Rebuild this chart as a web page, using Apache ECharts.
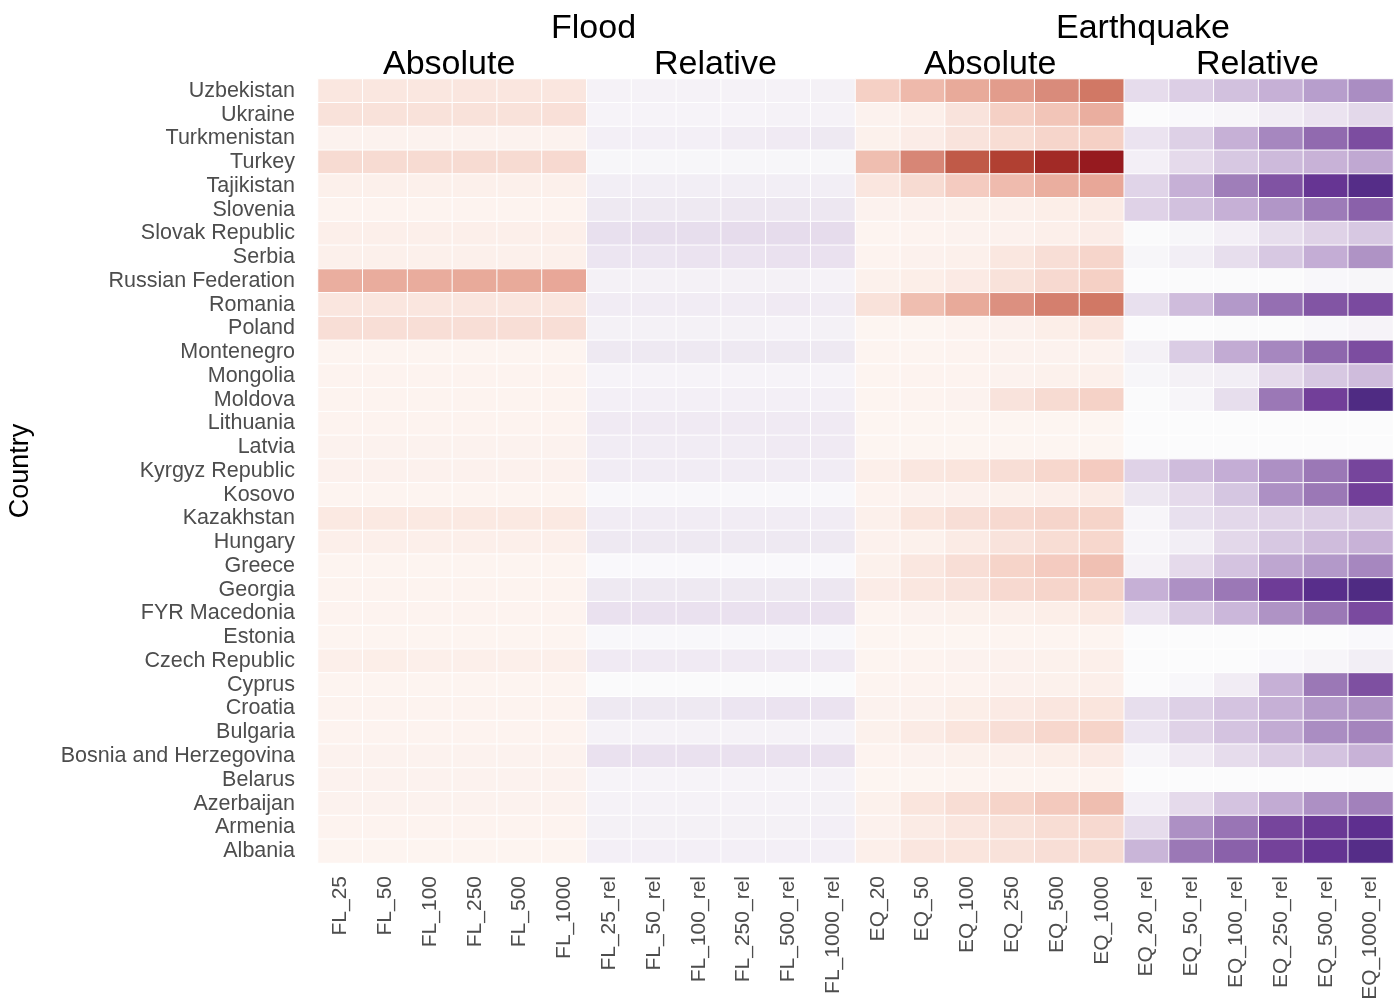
<!DOCTYPE html>
<html>
<head>
<meta charset="utf-8">
<script src="https://cdn.jsdelivr.net/npm/echarts@6/dist/echarts.min.js"></script>
<style>
html,body{margin:0;padding:0;background:#fff;}
#chart{width:1399px;height:998px;}
</style>
</head>
<body>
<div id="chart"></div>
<script>
const countries = ['Uzbekistan','Ukraine','Turkmenistan','Turkey','Tajikistan','Slovenia','Slovak Republic','Serbia','Russian Federation','Romania','Poland','Montenegro','Mongolia','Moldova','Lithuania','Latvia','Kyrgyz Republic','Kosovo','Kazakhstan','Hungary','Greece','Georgia','FYR Macedonia','Estonia','Czech Republic','Cyprus','Croatia','Bulgaria','Bosnia and Herzegovina','Belarus','Azerbaijan','Armenia','Albania'];

const columns = ['FL_25','FL_50','FL_100','FL_250','FL_500','FL_1000',
  'FL_25_rel','FL_50_rel','FL_100_rel','FL_250_rel','FL_500_rel','FL_1000_rel',
  'EQ_20','EQ_50','EQ_100','EQ_250','EQ_500','EQ_1000',
  'EQ_20_rel','EQ_50_rel','EQ_100_rel','EQ_250_rel','EQ_500_rel','EQ_1000_rel'];

// Flood absolute (rows follow countries order)
const floodAbs = [
  [16,16,16,17,17,17],[20,20,20,20,20,21],[6,6,6,6,6,6],[24,24,24,24,24,25],
  [9,9,9,9,9,9],[5,5,5,5,5,5],[10,10,10,10,10,10],[9,9,9,9,9,9],
  [45,46,46,47,47,48],[17,17,17,17,17,17],[22,22,22,22,22,22],[4,4,4,4,4,4],
  [5,5,5,5,5,5],[5,5,5,5,5,5],[5,5,5,5,5,5],[6,6,6,6,6,6],
  [7,7,7,7,7,7],[4,4,4,4,4,4],[15,15,15,15,15,15],[10,10,10,10,10,10],
  [4,4,4,4,4,4],[5,5,5,5,5,5],[5,5,5,5,5,5],[4,4,4,4,4,4],
  [10,11,10,10,10,10],[4,4,4,4,4,4],[5,5,5,5,5,5],[5,5,5,5,5,5],
  [6,6,6,6,6,6],[6,6,6,6,6,6],[6,6,6,6,6,6],[5,5,5,5,5,5],[4,4,4,4,4,4]
];
// Flood relative
const floodRel = [
  [7,7,7,7,7,8],[6,6,6,6,7,7],[9,9,9,11,12,13],[4,4,4,4,4,4],
  [10,10,10,10,10,10],[13,13,13,14,14,14],[18,19,19,20,20,20],[15,15,16,16,17,17],
  [8,8,8,8,8,7],[11,11,11,11,12,11],[8,8,8,8,7,8],[13,13,13,13,13,13],
  [6,6,6,6,6,6],[9,9,9,9,9,9],[12,12,12,12,12,12],[11,11,11,11,12,12],
  [11,11,11,11,11,11],[3,3,3,3,3,3],[11,11,11,11,11,11],[13,13,13,13,13,13],
  [2,2,2,2,2,2],[13,13,13,13,13,14],[17,17,17,17,17,17],[3,3,3,3,3,3],
  [12,12,12,12,12,12],[1,1,1,1,1,1],[13,13,13,15,16,16],[7,7,7,7,7,7],
  [17,17,17,17,17,17],[6,6,6,6,6,7],[7,7,7,7,7,8],[8,8,8,8,8,9],[9,9,9,9,9,9]
];
// Earthquake absolute
const quakeAbs = [
  [30,40,47,53,60,68],[6,10,19,30,35,45],[8,12,19,23,27,30],[38,62,80,88,95,100],
  [17,24,32,39,45,48],[6,7,8,9,11,13],[4,5,6,7,10,12],[5,7,9,16,22,27],
  [8,11,14,20,25,30],[20,38,47,58,65,68],[3,3,5,7,11,17],[4,4,5,6,6,6],
  [4,5,5,6,8,9],[4,5,6,19,24,29],[3,3,3,3,3,3],[3,3,3,3,3,3],
  [10,16,18,22,26,32],[5,6,7,8,10,13],[9,18,22,25,27,28],[7,8,13,19,23,26],
  [8,16,22,28,32,37],[12,16,19,25,27,29],[4,6,8,9,11,15],[3,3,3,4,4,4],
  [4,5,6,7,8,10],[4,5,5,7,8,10],[6,7,11,14,17,18],[8,13,18,22,26,28],
  [5,6,8,9,11,14],[3,3,4,4,4,5],[8,18,23,28,33,38],[7,13,17,20,23,25],[10,17,18,20,22,24]
];
// Earthquake relative
const quakeRel = [
  [20,27,33,40,47,53],[0,2,5,11,16,22],[16,26,40,55,65,75],[9,21,30,36,39,43],
  [24,40,58,73,86,95],[25,33,40,50,59,68],[1,4,9,19,25,30],[4,10,19,30,41,51],
  [0,1,1,1,3,4],[18,35,49,63,72,76],[0,0,1,1,3,6],[8,28,42,55,66,75],
  [4,8,10,21,30,35],[1,5,19,60,80,98],[0,0,0,0,0,0],[0,0,0,0,0,0],
  [25,35,41,52,60,78],[14,21,31,52,60,80],[5,18,22,25,27,29],[5,10,22,30,35,39],
  [7,21,32,44,49,55],[40,52,60,82,93,98],[16,28,37,51,60,76],[0,0,0,0,0,2],
  [0,0,0,2,5,10],[0,3,11,40,60,74],[19,26,32,40,48,51],[15,25,32,42,53,56],
  [5,12,20,27,32,39],[0,0,0,0,0,1],[9,21,32,42,52,57],[20,52,61,78,84,90],[38,60,68,79,87,95]
];

const blocks = [floodAbs, floodRel, quakeAbs, quakeRel];
const redStops = ['#fdf7f4','#fcefea','#f9e2da','#f5d0c5','#eeb9ab','#e6a393','#d98b7b','#cf7360','#c05a48','#ad3a2c','#961a1f'];
const purpleStops = ['#fbfbfc','#f2eef5','#e6dcec','#d7c8e2','#c6b0d6','#b196c7','#9b78b6','#865ba7','#723f99','#5e2f8f','#4b2a80'];

const series = blocks.map((block, b) => {
  const data = [];
  block.forEach((row, r) => {
    row.forEach((v, c) => data.push([b * 6 + c, r, v]));
  });
  return {
    type: 'heatmap',
    data: data,
    itemStyle: { borderColor: '#ffffff', borderWidth: 1 },
    emphasis: { disabled: true }
  };
});

const FONT = 'Liberation Sans, Helvetica, Arial, sans-serif';
const chart = echarts.init(document.getElementById('chart'));
const headStyle = { fontFamily: FONT, fontSize: 34, fill: '#000' };
chart.setOption({
  animation: false,
  backgroundColor: '#ffffff',
  grid: { left: 318, right: 6, top: 79, bottom: 135, containLabel: false, outerBoundsMode: 'none' },
  xAxis: {
    type: 'category',
    data: columns,
    axisLine: { show: false },
    axisTick: { show: false },
    splitArea: { show: false },
    axisLabel: {
      rotate: 90, interval: 0, margin: 13,
      fontFamily: FONT, fontSize: 21, color: '#4d4d4d'
    }
  },
  yAxis: {
    type: 'category',
    data: countries,
    inverse: true,
    axisLine: { show: false },
    axisTick: { show: false },
    axisLabel: {
      interval: 0, margin: 23,
      fontFamily: FONT, fontSize: 21.5, color: '#4d4d4d'
    },
    name: 'Country',
    nameLocation: 'middle',
    nameGap: 284,
    nameRotate: 90,
    nameTextStyle: { fontFamily: FONT, fontSize: 27, color: '#000' }
  },
  visualMap: [
    { type: 'continuous', show: false, min: 0, max: 100, seriesIndex: [0, 2], inRange: { color: redStops } },
    { type: 'continuous', show: false, min: 0, max: 100, seriesIndex: [1, 3], inRange: { color: purpleStops } }
  ],
  graphic: [
    { type: 'text', left: 551, top: 12, style: Object.assign({ text: 'Flood' }, headStyle) },
    { type: 'text', left: 1056, top: 12, style: Object.assign({ text: 'Earthquake' }, headStyle) },
    { type: 'text', left: 383, top: 48, style: Object.assign({ text: 'Absolute' }, headStyle) },
    { type: 'text', left: 654, top: 48, style: Object.assign({ text: 'Relative' }, headStyle) },
    { type: 'text', left: 924, top: 48, style: Object.assign({ text: 'Absolute' }, headStyle) },
    { type: 'text', left: 1196, top: 48, style: Object.assign({ text: 'Relative' }, headStyle) }
  ],
  series: series
});
</script>
</body>
</html>
